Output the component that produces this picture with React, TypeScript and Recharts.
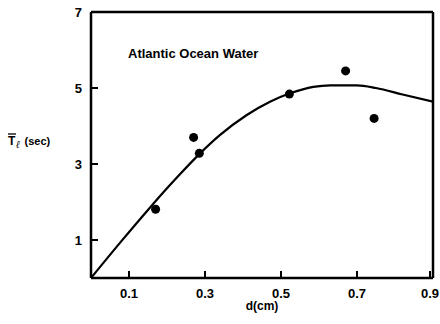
import { ComposedChart, Line, Scatter, XAxis, YAxis, ReferenceLine, Label } from "recharts";

// smooth fitted curve
const curveD = [0, 0.08, 0.155, 0.2, 0.234, 0.287, 0.339, 0.41, 0.471, 0.524, 0.585, 0.63, 0.7, 0.75, 0.82, 0.9];
const curveT = [0, 0.97, 1.85, 2.36, 2.73, 3.28, 3.76, 4.29, 4.64, 4.86, 5.03, 5.07, 5.07, 5.0, 4.83, 4.64];

// measured points
const pointD = [0.17, 0.27, 0.285, 0.522, 0.67, 0.745];
const pointT = [1.81, 3.7, 3.28, 4.84, 5.45, 4.2];

const xTicks = [0.1, 0.3, 0.5, 0.7, 0.9];
const yTicks = [1, 3, 5, 7];

const FONT = '"Liberation Sans", Arial, sans-serif';

const curveData = curveD.map((d, i) => ({ d, t: curveT[i] }));
const pointData = pointD.map((d, i) => ({ d, t: pointT[i] }));

const XTick = (props: any) => {
    const { x, y, payload } = props;
    return (
        <g>
            <line x1={x} y1={y} x2={x} y2={y - 7} stroke="#000" strokeWidth={2} />
            <text x={x} y={y + 20} textAnchor="middle" fontFamily={FONT} fontWeight={700} fontSize={13} fill="#000">
                {payload.value}
            </text>
        </g>
    );
};

const YTick = (props: any) => {
    const { x, y, payload } = props;
    return (
        <g>
            <line x1={x} y1={y} x2={x + 7} y2={y} stroke="#000" strokeWidth={2} />
            <text x={x - 9} y={y + 5} textAnchor="end" fontFamily={FONT} fontWeight={700} fontSize={13} fill="#000">
                {payload.value}
            </text>
        </g>
    );
};

const YTitle = () => (
    <g fontFamily={FONT} fontWeight={700} fill="#000">
        <line x1={8} y1={134} x2={16} y2={134} stroke="#000" strokeWidth={1.3} />
        <text x={8} y={145} fontSize={12}>
            T
            <tspan fontSize={10} fontStyle="italic" fontWeight={400} dy={3} dx={1}>ℓ</tspan>
            <tspan fontSize={11} dy={-3} dx={5}>(sec)</tspan>
        </text>
    </g>
);

export default function App() {
    return (
        <div style={{ position: "absolute", left: 0, top: 0, width: 440, height: 324, background: "#fff" }}>
            <ComposedChart width={440} height={324} margin={{ top: 12, right: 7, left: 41, bottom: 16 }}>
                <XAxis
                    type="number"
                    dataKey="d"
                    domain={[0, 0.9]}
                    ticks={xTicks}
                    height={30}
                    tickSize={0}
                    tickMargin={0}
                    tickLine={false}
                    tick={<XTick />}
                    axisLine={{ stroke: "#000", strokeWidth: 2.5 }}
                    allowDataOverflow
                >
                    <Label
                        value="d(cm)"
                        position="insideBottom"
                        offset={-2}
                        style={{ fontFamily: FONT, fontWeight: 700, fontSize: 12, fill: "#000" }}
                    />
                </XAxis>
                <YAxis
                    type="number"
                    dataKey="t"
                    domain={[0, 7]}
                    ticks={yTicks}
                    width={50}
                    tickSize={0}
                    tickMargin={0}
                    tickLine={false}
                    tick={<YTick />}
                    axisLine={{ stroke: "#000", strokeWidth: 2.5 }}
                    allowDataOverflow
                >
                    <Label content={<YTitle />} />
                </YAxis>
                <ReferenceLine y={7} stroke="#000" strokeWidth={2.5} />
                <ReferenceLine x={0.9} stroke="#000" strokeWidth={2.5}>
                    <Label
                        value="Atlantic Ocean Water"
                        content={() => (
                            <text x={128} y={58} fontFamily={FONT} fontWeight={700} fontSize={13} fill="#000">
                                Atlantic Ocean Water
                            </text>
                        )}
                    />
                </ReferenceLine>
                <Line
                    data={curveData}
                    dataKey="t"
                    type="monotone"
                    stroke="#000"
                    strokeWidth={2.2}
                    dot={false}
                    activeDot={false}
                    isAnimationActive={false}
                />
                <Scatter data={pointData} dataKey="t" fill="#000" shape="circle" isAnimationActive={false} />
            </ComposedChart>
        </div>
    );
}
